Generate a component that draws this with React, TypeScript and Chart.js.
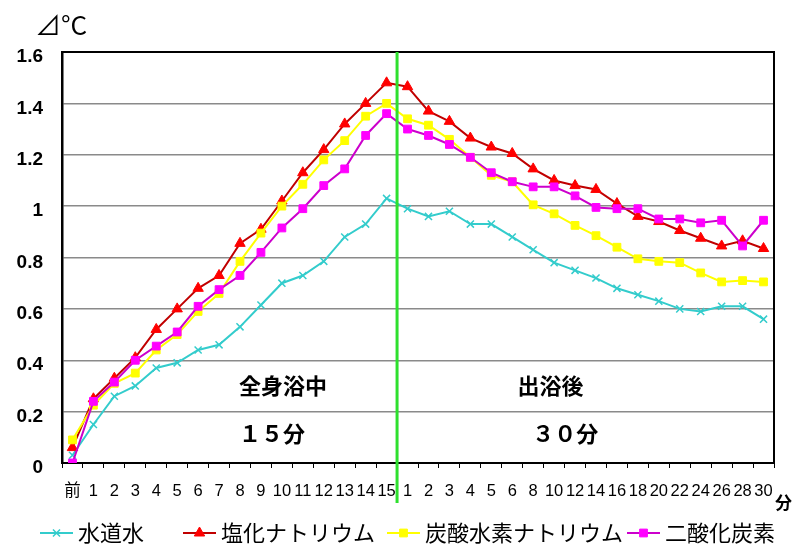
import React, { useEffect, useRef } from 'react';
import { Chart, registerables } from 'chart.js';
import { drawPoint } from 'chart.js/helpers';

Chart.register(...registerables);

const categories = [
  '前', '1', '2', '3', '4', '5', '6', '7', '8', '9', '10', '11', '12', '13', '14', '15',
  '1', '2', '3', '4', '5', '6', '8', '10', '12', '14', '16', '18', '20', '22', '24', '26', '28', '30',
];

const tapWater = [
  0.03, 0.15, 0.26, 0.30, 0.37, 0.39, 0.44, 0.46, 0.53, 0.615, 0.70, 0.73, 0.785, 0.88, 0.93, 1.03,
  0.99, 0.96, 0.98, 0.93, 0.93, 0.88, 0.83, 0.78, 0.75, 0.72, 0.68, 0.655, 0.63, 0.60, 0.59, 0.61, 0.61, 0.56,
];

const sodiumChloride = [
  0.06, 0.25, 0.33, 0.41, 0.52, 0.60, 0.68, 0.73, 0.855, 0.91, 1.02, 1.13, 1.22, 1.32, 1.40, 1.48,
  1.465, 1.37, 1.33, 1.265, 1.23, 1.205, 1.145, 1.10, 1.08, 1.065, 1.01, 0.96, 0.94, 0.905, 0.875, 0.845, 0.865, 0.835,
];

const sodiumBicarbonate = [
  0.09, 0.225, 0.31, 0.35, 0.44, 0.50, 0.59, 0.66, 0.785, 0.895, 1.00, 1.085, 1.18, 1.255, 1.35, 1.40,
  1.34, 1.315, 1.26, 1.19, 1.12, 1.095, 1.005, 0.97, 0.925, 0.885, 0.84, 0.795, 0.785, 0.78, 0.74, 0.705, 0.71, 0.705,
];

const carbonDioxide = [
  0.0, 0.24, 0.315, 0.40, 0.455, 0.51, 0.61, 0.675, 0.73, 0.82, 0.915, 0.99, 1.08, 1.145, 1.275, 1.36,
  1.30, 1.275, 1.24, 1.19, 1.13, 1.095, 1.075, 1.075, 1.04, 0.995, 0.99, 0.99, 0.95, 0.95, 0.935, 0.945, 0.845, 0.945,
];

const seriesLabels = ['水道水', '塩化ナトリウム', '炭酸水素ナトリウム', '二酸化炭素'];

const yTicks = [0, 0.2, 0.4, 0.6, 0.8, 1.0, 1.2, 1.4, 1.6];

// annotation texts: category index (left edge) and value (vertical centre)
const noteTexts = ['全身浴中', '１５分', '出浴後', '３０分'];
const noteIndex = [8, 8, 21.3, 22];
const noteValue = [0.30, 0.113, 0.30, 0.113];

const dividerIndex = 15.5;

const CJK = '"Noto Sans CJK JP", "Liberation Sans", sans-serif';

const overlayPlugin = {
  id: 'overlay',
  beforeDatasetsDraw(chart: any) {
    const { ctx, chartArea } = chart;
    ctx.save();
    ctx.strokeStyle = '#000';
    ctx.lineWidth = 2;
    ctx.beginPath();
    ctx.moveTo(chartArea.left, chartArea.top);
    ctx.lineTo(chartArea.right, chartArea.top);
    ctx.lineTo(chartArea.right, chartArea.bottom);
    ctx.stroke();
    ctx.restore();
  },
  afterDatasetsDraw(chart: any) {
    const { ctx, chartArea, scales } = chart;
    const xs = scales.x;
    const ys = scales.y;
    ctx.save();
    // green divider
    const gx = xs.getPixelForValue(dividerIndex);
    ctx.strokeStyle = '#2EE02E';
    ctx.lineWidth = 3;
    ctx.beginPath();
    ctx.moveTo(gx, chartArea.top);
    ctx.lineTo(gx, chartArea.bottom + 40);
    ctx.stroke();

    // notes
    ctx.fillStyle = '#000';
    ctx.textBaseline = 'middle';
    ctx.textAlign = 'left';
    ctx.font = `bold 22px ${CJK}`;
    noteTexts.forEach((t, i) => {
      ctx.fillText(t, xs.getPixelForValue(noteIndex[i]) - 1, ys.getPixelForValue(noteValue[i]));
    });

    // y unit
    ctx.font = `26px ${CJK}`;
    ctx.textBaseline = 'middle';
    ctx.fillText('⊿°C', chartArea.left - 27, chartArea.top - 27);

    // x unit
    ctx.font = `bold 17px ${CJK}`;
    ctx.fillText('分', chartArea.right + 1, chartArea.bottom + 40);

    // legend
    const legendX = [40, 183, 387, 627];
    const yL = 533;
    chart.data.datasets.forEach((ds: any, i: number) => {
      const x0 = legendX[i];
      ctx.strokeStyle = ds.borderColor;
      ctx.lineWidth = 2;
      ctx.beginPath();
      ctx.moveTo(x0, yL);
      ctx.lineTo(x0 + 33, yL);
      ctx.stroke();
      ctx.fillStyle = ds.pointBackgroundColor;
      ctx.strokeStyle = ds.pointBorderColor;
      ctx.lineWidth = ds.pointBorderWidth;
      drawPoint(ctx, { pointStyle: ds.pointStyle, radius: ds.pointRadius, rotation: 0, borderWidth: ds.pointBorderWidth } as any, x0 + 16.5, yL);
      ctx.fillStyle = '#000';
      ctx.font = `22px ${CJK}`;
      ctx.textAlign = 'left';
      ctx.textBaseline = 'middle';
      ctx.fillText(ds.label, x0 + 38, yL);
    });
    ctx.restore();
  },
};

export default function App() {
  const ref = useRef<HTMLCanvasElement | null>(null);

  useEffect(() => {
    if (!ref.current) return;
    const chart = new Chart(ref.current, {
      type: 'line',
      data: {
        labels: categories,
        datasets: [
          {
            label: seriesLabels[0],
            data: tapWater,
            borderColor: '#33CCCC',
            borderWidth: 2,
            pointStyle: 'crossRot',
            pointRadius: 5,
            pointBorderColor: '#33CCCC',
            pointBackgroundColor: '#33CCCC',
            pointBorderWidth: 1.5,
            tension: 0,
            order: 3,
          },
          {
            label: seriesLabels[1],
            data: sodiumChloride,
            borderColor: '#C00000',
            borderWidth: 2,
            pointStyle: 'triangle',
            pointRadius: 6,
            pointBorderColor: '#FF0000',
            pointBackgroundColor: '#FF0000',
            pointBorderWidth: 1,
            tension: 0,
            order: 2,
          },
          {
            label: seriesLabels[2],
            data: sodiumBicarbonate,
            borderColor: '#FFFF00',
            borderWidth: 2,
            pointStyle: 'rect',
            pointRadius: 5.5,
            pointBorderColor: '#FFFF00',
            pointBackgroundColor: '#FFFF00',
            pointBorderWidth: 1,
            tension: 0,
            order: 1,
          },
          {
            label: seriesLabels[3],
            data: carbonDioxide,
            borderColor: '#CC00CC',
            borderWidth: 2,
            pointStyle: 'rect',
            pointRadius: 5.5,
            pointBorderColor: '#FF00FF',
            pointBackgroundColor: '#FF00FF',
            pointBorderWidth: 1,
            tension: 0,
            order: 0,
          },
        ],
      },
      options: {
        responsive: false,
        animation: false,
        events: [],
        layout: { padding: { top: 52, right: 26, left: 0, bottom: 0 } },
        plugins: {
          legend: { display: false },
          tooltip: { enabled: false },
        },
        scales: {
          x: {
            offset: true,
            afterFit: (s: any) => { s.height = 97; },
            grid: {
              offset: true,
              drawOnChartArea: false,
              drawTicks: true,
              tickLength: 5,
              color: '#000',
              lineWidth: 1,
            },
            border: { color: '#000', width: 2 },
            ticks: {
              autoSkip: false,
              maxRotation: 0,
              minRotation: 0,
              padding: 14,
              color: '#000',
              font: { size: 16.5, family: '"Liberation Sans", "Noto Sans CJK JP", sans-serif' },
            },
          },
          y: {
            min: 0,
            max: 1.6,
            afterFit: (s: any) => { s.width = 62; },
            afterBuildTicks: (s: any) => { s.ticks = yTicks.map((v) => ({ value: v })); },
            grid: { color: '#8A8A8A', lineWidth: 1.5, drawTicks: false },
            border: { color: '#000', width: 2.5 },
            ticks: {
              padding: 19,
              labelOffset: 5,
              color: '#000',
              font: { size: 19, weight: 'bold', family: '"Liberation Sans", sans-serif' },
              callback: (v: any) => String(Math.round(Number(v) * 10) / 10),
            },
          },
        },
      },
      plugins: [overlayPlugin],
    } as any);
    return () => chart.destroy();
  }, []);

  return (
    <div style={{ position: 'absolute', left: 0, top: 0, width: 800, height: 560, background: '#fff' }}>
      <canvas ref={ref} width={800} height={560} />
    </div>
  );
}
